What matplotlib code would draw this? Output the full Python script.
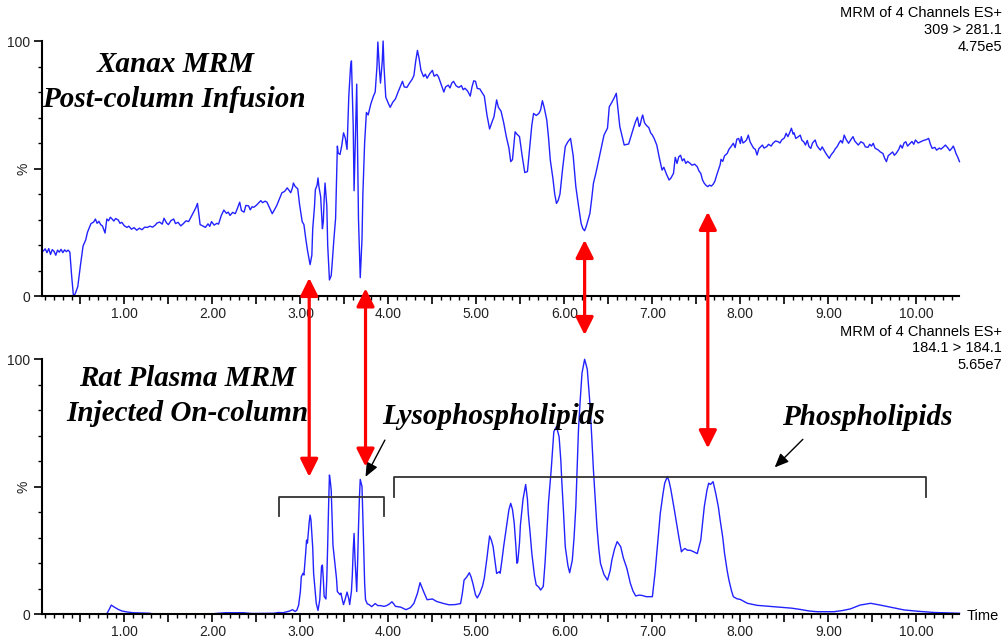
import numpy as np
import matplotlib
matplotlib.use('Agg')
import matplotlib.pyplot as plt
from matplotlib.patches import ConnectionPatch
from matplotlib.ticker import MultipleLocator, FuncFormatter

plt.rcParams['font.family'] = ['Liberation Sans', 'DejaVu Sans']

# Xanax post-column infusion trace (309 > 281.1), time in min, % intensity
top_time = [0.07, 0.10, 0.12, 0.14, 0.16, 0.18, 0.20, 0.22, 0.24, 0.26, 0.28, 0.30, 0.32, 0.34, 0.36, 0.38,
            0.40, 0.42, 0.44, 0.47, 0.50, 0.53, 0.56, 0.58, 0.62, 0.65, 0.67, 0.69, 0.71, 0.73, 0.75, 0.78,
            0.80, 0.82, 0.84, 0.86, 0.88, 0.90, 0.93, 0.95, 0.97, 1.00, 1.03, 1.05, 1.08, 1.11, 1.14, 1.17,
            1.20, 1.23, 1.26, 1.29, 1.32, 1.35, 1.37, 1.40, 1.43, 1.45, 1.48, 1.50, 1.53, 1.56, 1.58, 1.61,
            1.64, 1.67, 1.70, 1.73, 1.75, 1.78, 1.81, 1.83, 1.85, 1.86, 1.89, 1.92, 1.95, 1.97, 1.99, 2.02,
            2.05, 2.07, 2.10, 2.13, 2.16, 2.18, 2.20, 2.23, 2.26, 2.28, 2.31, 2.33, 2.36, 2.38, 2.41, 2.43,
            2.45, 2.47, 2.50, 2.52, 2.55, 2.57, 2.60, 2.62, 2.65, 2.68, 2.70, 2.73, 2.76, 2.79, 2.82, 2.85,
            2.87, 2.89, 2.91, 2.92, 2.94, 2.97, 2.99, 3.02, 3.04, 3.06, 3.08, 3.11, 3.13, 3.14, 3.16, 3.17,
            3.19, 3.20, 3.21, 3.23, 3.25, 3.26, 3.27, 3.28, 3.30, 3.31, 3.33, 3.35, 3.36, 3.38, 3.40, 3.42,
            3.43, 3.45, 3.47, 3.49, 3.51, 3.53, 3.55, 3.57, 3.58, 3.60, 3.61, 3.63, 3.64, 3.66, 3.68, 3.70,
            3.71, 3.73, 3.75, 3.77, 3.80, 3.83, 3.85, 3.87, 3.88, 3.90, 3.91, 3.93, 3.94, 3.95, 3.97, 4.00,
            4.02, 4.05, 4.08, 4.11, 4.14, 4.16, 4.18, 4.21, 4.24, 4.27, 4.29, 4.31, 4.33, 4.35, 4.37, 4.40,
            4.42, 4.44, 4.47, 4.50, 4.52, 4.55, 4.57, 4.60, 4.63, 4.65, 4.68, 4.70, 4.72, 4.74, 4.77, 4.80,
            4.83, 4.85, 4.87, 4.90, 4.93, 4.95, 4.97, 4.99, 5.01, 5.04, 5.06, 5.09, 5.12, 5.15, 5.18, 5.20,
            5.23, 5.25, 5.28, 5.31, 5.34, 5.37, 5.39, 5.41, 5.44, 5.46, 5.49, 5.52, 5.55, 5.58, 5.61, 5.63,
            5.65, 5.68, 5.71, 5.73, 5.75, 5.77, 5.80, 5.82, 5.84, 5.87, 5.89, 5.91, 5.93, 5.95, 5.98, 6.01,
            6.04, 6.07, 6.10, 6.13, 6.16, 6.19, 6.21, 6.23, 6.25, 6.27, 6.29, 6.31, 6.33, 6.36, 6.39, 6.42,
            6.45, 6.47, 6.49, 6.51, 6.54, 6.57, 6.59, 6.61, 6.63, 6.66, 6.68, 6.70, 6.73, 6.76, 6.79, 6.81,
            6.83, 6.85, 6.86, 6.88, 6.89, 6.91, 6.93, 6.96, 6.98, 7.00, 7.02, 7.05, 7.08, 7.11, 7.13, 7.16,
            7.19, 7.21, 7.24, 7.26, 7.28, 7.30, 7.32, 7.34, 7.36, 7.38, 7.40, 7.43, 7.45, 7.48, 7.51, 7.53,
            7.55, 7.57, 7.59, 7.61, 7.63, 7.65, 7.67, 7.69, 7.71, 7.73, 7.75, 7.77, 7.78, 7.80, 7.82, 7.85,
            7.87, 7.89, 7.92, 7.94, 7.96, 7.98, 8.00, 8.01, 8.03, 8.05, 8.07, 8.09, 8.11, 8.13, 8.15, 8.17,
            8.19, 8.21, 8.23, 8.25, 8.27, 8.30, 8.32, 8.35, 8.37, 8.40, 8.43, 8.45, 8.47, 8.50, 8.52, 8.54,
            8.56, 8.58, 8.60, 8.61, 8.63, 8.66, 8.68, 8.70, 8.72, 8.74, 8.76, 8.78, 8.80, 8.82, 8.85, 8.87,
            8.89, 8.91, 8.93, 8.96, 8.98, 9.01, 9.03, 9.06, 9.08, 9.10, 9.12, 9.14, 9.16, 9.18, 9.20, 9.23,
            9.25, 9.28, 9.30, 9.32, 9.34, 9.37, 9.40, 9.42, 9.45, 9.47, 9.49, 9.51, 9.53, 9.55, 9.57, 9.59,
            9.62, 9.64, 9.66, 9.68, 9.71, 9.73, 9.75, 9.77, 9.80, 9.82, 9.84, 9.86, 9.88, 9.90, 9.93, 9.95,
            9.97, 9.99, 10.02, 10.05, 10.08, 10.11, 10.14, 10.16, 10.18, 10.21, 10.23, 10.26, 10.28, 10.31,
            10.33, 10.36, 10.38, 10.40, 10.42, 10.44, 10.45, 10.47, 10.49]
top_pct = [17.4, 18.5, 17.0, 18.6, 16.3, 18.2, 17.5, 16.0, 18.0, 17.2, 18.3, 17.0, 18.1, 17.4, 18.0, 17.2,
           8.0, 0.2, 0.8, 3.7, 12.0, 19.6, 22.0, 25.0, 28.4, 29.0, 30.2, 28.5, 29.3, 28.0, 27.5, 24.7,
           30.2, 29.5, 30.9, 30.2, 29.4, 30.4, 29.8, 28.5, 28.9, 27.5, 26.9, 27.4, 26.2, 26.8, 25.8, 26.6,
           26.0, 27.0, 26.9, 27.4, 27.0, 27.8, 28.6, 29.0, 28.2, 30.5, 28.6, 28.0, 29.6, 30.2, 28.4, 28.9,
           27.5, 28.4, 29.5, 29.2, 30.5, 32.5, 34.5, 36.3, 31.0, 28.0, 27.5, 26.9, 28.3, 27.3, 29.2, 27.8,
           28.5, 28.2, 31.5, 33.7, 32.4, 32.9, 31.6, 32.8, 32.3, 34.0, 36.8, 33.5, 32.9, 35.5, 35.4, 33.8,
           35.0, 34.8, 35.6, 36.3, 37.4, 36.6, 37.2, 36.8, 34.5, 32.3, 33.5, 35.4, 38.0, 40.5, 41.0, 42.4,
           41.5, 40.5, 42.5, 44.3, 43.0, 42.0, 36.0, 29.2, 28.0, 22.7, 18.0, 12.3, 16.0, 26.4, 35.0, 41.7,
           43.5, 46.3, 43.0, 39.0, 26.4, 29.0, 38.0, 44.3, 35.4, 20.0, 6.3, 8.0, 12.3, 22.0, 30.5, 58.8,
           56.0, 55.5, 59.0, 64.0, 62.0, 57.5, 78.4, 90.0, 92.2, 66.8, 41.3, 70.0, 83.1, 30.2, 7.2, 22.3,
           40.0, 60.2, 72.0, 71.0, 75.3, 78.4, 80.0, 90.0, 99.6, 88.0, 83.5, 92.0, 100.0, 90.0, 78.0, 75.5,
           74.0, 76.0, 77.3, 80.0, 82.5, 84.2, 82.0, 81.8, 83.5, 85.0, 86.5, 92.0, 96.3, 93.0, 88.5, 86.0,
           87.0, 85.4, 87.2, 88.5, 86.2, 86.9, 85.9, 83.0, 80.0, 82.0, 82.7, 81.6, 83.5, 84.2, 82.4, 81.8,
           82.5, 80.9, 81.5, 80.4, 78.4, 82.0, 84.4, 84.2, 81.4, 81.2, 80.0, 78.4, 71.0, 65.5, 68.5, 70.3,
           76.9, 74.0, 72.5, 68.0, 62.5, 58.0, 52.7, 53.5, 64.4, 63.5, 62.5, 55.0, 48.4, 48.8, 60.0, 67.0,
           71.6, 70.8, 71.6, 73.0, 76.6, 74.0, 69.0, 62.0, 53.3, 46.0, 40.0, 36.3, 37.5, 40.0, 50.0, 58.6,
           60.5, 61.8, 55.0, 42.9, 35.5, 28.5, 26.4, 25.6, 27.5, 30.0, 32.4, 38.0, 44.2, 48.5, 53.3, 58.0,
           63.1, 64.5, 65.8, 74.2, 76.0, 78.0, 79.5, 73.0, 66.4, 62.0, 59.2, 59.4, 59.6, 63.0, 66.4, 68.5,
           70.1, 66.5, 67.0, 70.0, 71.0, 68.0, 67.0, 66.0, 64.0, 63.1, 61.8, 59.2, 54.0, 49.4, 50.5, 47.8,
           45.5, 46.2, 48.1, 54.4, 52.0, 54.6, 55.2, 53.0, 53.8, 52.0, 52.8, 52.0, 51.3, 51.7, 50.7, 49.0,
           48.1, 45.5, 44.2, 43.4, 42.9, 43.5, 43.1, 43.8, 45.0, 47.3, 49.4, 51.5, 53.6, 52.8, 55.0, 55.9,
           57.5, 58.4, 59.9, 58.2, 61.5, 61.8, 59.8, 62.5, 60.0, 60.5, 61.2, 63.1, 60.5, 59.2, 58.0, 57.5,
           55.3, 57.8, 58.5, 59.2, 58.0, 58.6, 59.5, 58.8, 59.9, 60.8, 60.5, 60.0, 61.2, 62.0, 63.8, 62.5,
           64.0, 65.8, 63.5, 64.0, 61.8, 62.5, 63.1, 61.0, 60.5, 59.2, 61.0, 58.6, 57.9, 60.0, 61.2, 59.0,
           58.0, 57.2, 58.5, 56.6, 55.5, 54.0, 55.3, 56.6, 57.8, 58.6, 59.9, 61.0, 60.0, 63.1, 61.5, 59.9,
           61.0, 62.5, 60.8, 60.0, 59.2, 60.5, 59.9, 58.5, 58.3, 59.5, 58.8, 59.9, 58.0, 57.6, 57.2, 56.5,
           55.9, 54.0, 52.7, 55.0, 55.9, 56.5, 55.2, 55.9, 57.5, 59.2, 58.0, 60.0, 60.5, 58.8, 59.9, 60.6,
           59.5, 61.2, 60.0, 60.5, 61.0, 61.3, 61.8, 59.5, 57.9, 58.3, 57.2, 58.0, 57.6, 58.5,
           59.2, 58.0, 57.0, 57.8, 58.8, 57.0, 55.9, 54.5, 52.7]

# rat plasma trace (184.1 > 184.1)
bot_time = [0.07, 0.40, 0.80, 0.83, 0.85, 0.89, 0.93, 0.97, 1.03, 1.10, 1.20, 1.28, 1.32, 1.60, 2.00, 2.15,
            2.35, 2.45, 2.70, 2.75, 2.80, 2.85, 2.88, 2.91, 2.94, 2.96, 2.98, 3.00, 3.01, 3.03, 3.04, 3.06,
            3.07, 3.08, 3.10, 3.11, 3.12, 3.14, 3.15, 3.17, 3.18, 3.20, 3.22, 3.23, 3.24, 3.25, 3.26, 3.27,
            3.29, 3.30, 3.31, 3.32, 3.33, 3.34, 3.35, 3.36, 3.37, 3.39, 3.41, 3.42, 3.44, 3.45, 3.46, 3.48,
            3.49, 3.51, 3.53, 3.55, 3.56, 3.58, 3.59, 3.60, 3.61, 3.62, 3.64, 3.65, 3.66, 3.67, 3.68, 3.70,
            3.71, 3.72, 3.73, 3.74, 3.76, 3.78, 3.81, 3.83, 3.85, 3.88, 3.91, 3.95, 3.98, 4.01, 4.04, 4.06,
            4.08, 4.14, 4.20, 4.25, 4.29, 4.33, 4.36, 4.38, 4.40, 4.44, 4.50, 4.55, 4.63, 4.69, 4.76, 4.82,
            4.84, 4.86, 4.89, 4.92, 4.94, 4.96, 4.99, 5.01, 5.04, 5.07, 5.09, 5.12, 5.15, 5.17, 5.19, 5.21,
            5.23, 5.26, 5.27, 5.29, 5.31, 5.35, 5.37, 5.39, 5.41, 5.43, 5.45, 5.46, 5.47, 5.49, 5.50, 5.53,
            5.56, 5.58, 5.59, 5.61, 5.63, 5.66, 5.68, 5.71, 5.73, 5.76, 5.78, 5.80, 5.82, 5.85, 5.88, 5.91,
            5.94, 5.96, 5.97, 5.99, 6.01, 6.04, 6.06, 6.09, 6.11, 6.13, 6.16, 6.18, 6.20, 6.23, 6.26, 6.29,
            6.31, 6.33, 6.35, 6.37, 6.39, 6.41, 6.45, 6.49, 6.52, 6.54, 6.57, 6.60, 6.64, 6.67, 6.71, 6.75,
            6.78, 6.81, 6.85, 6.88, 6.93, 7.00, 7.03, 7.06, 7.09, 7.12, 7.14, 7.17, 7.19, 7.21, 7.25, 7.30,
            7.33, 7.35, 7.37, 7.40, 7.43, 7.47, 7.51, 7.55, 7.59, 7.62, 7.64, 7.66, 7.69, 7.72, 7.75, 7.77,
            7.80, 7.82, 7.85, 7.87, 7.90, 7.92, 7.96, 8.00, 8.08, 8.19, 8.30, 8.40, 8.49, 8.58, 8.68, 8.78,
            8.87, 9.06, 9.15, 9.25, 9.36, 9.48, 9.59, 9.72, 9.86, 10.01, 10.20, 10.49]
bot_pct = [0.0, 0.0, 0.1, 2.0, 3.5, 2.6, 1.8, 1.2, 0.8, 0.5, 0.4, 0.3, 0.1, 0.1, 0.1, 0.5,
           0.5, 0.2, 0.3, 0.6, 0.5, 0.9, 1.2, 1.7, 1.0, 1.5, 3.5, 9.0, 14.6, 16.0, 15.3, 24.0,
           29.0, 27.8, 36.0, 38.8, 36.9, 26.0, 16.0, 8.0, 4.2, 1.4, 5.6, 12.0, 18.6, 19.2, 14.0, 6.9,
           5.9, 14.0, 27.0, 42.0, 54.5, 52.0, 48.6, 38.0, 27.0, 20.5, 14.0, 8.8, 8.0, 7.6, 8.2, 5.0,
           3.7, 6.0, 8.6, 6.0, 3.7, 9.0, 15.3, 25.0, 31.6, 22.0, 8.8, 20.0, 33.9, 45.0, 52.8, 50.0,
           38.0, 25.2, 12.0, 5.6, 4.0, 3.7, 2.9, 3.5, 4.1, 3.3, 3.3, 3.0, 3.3, 3.9, 4.8, 4.0,
           3.0, 2.7, 1.7, 2.5, 4.2, 8.1, 12.3, 10.5, 8.8, 5.6, 5.9, 4.9, 4.1, 3.6, 3.7, 4.1,
           8.0, 13.3, 14.5, 16.2, 14.5, 12.0, 7.5, 6.3, 8.2, 11.0, 14.1, 22.0, 30.6, 29.0, 26.4, 21.0,
           15.9, 16.6, 16.0, 21.0, 26.5, 36.0, 41.0, 43.4, 41.0, 35.6, 26.0, 19.9, 20.4, 28.0, 34.8, 45.0,
           50.8, 45.0, 39.3, 32.0, 23.8, 15.0, 11.4, 10.5, 9.4, 10.8, 20.0, 31.6, 44.0, 56.5, 71.5, 73.5,
           69.5, 60.0, 52.5, 40.0, 26.4, 19.0, 16.2, 21.1, 30.0, 42.1, 72.2, 84.0, 94.4, 99.9, 96.0, 82.6,
           70.0, 56.5, 45.0, 34.2, 26.0, 19.9, 15.5, 13.3, 17.0, 21.2, 25.5, 28.4, 26.4, 22.0, 17.9, 12.0,
           9.0, 7.1, 7.4, 7.3, 6.8, 6.8, 16.0, 28.0, 39.5, 47.0, 51.3, 53.9, 52.0, 48.8, 40.8, 30.3,
           24.4, 25.2, 25.7, 25.0, 25.0, 24.4, 23.7, 29.0, 42.1, 48.5, 51.3, 50.8, 51.9, 47.3, 42.0, 36.9,
           30.0, 23.8, 17.0, 13.3, 9.0, 6.8, 6.0, 5.7, 4.2, 3.4, 3.1, 2.8, 2.6, 2.3, 1.8, 1.2,
           0.9, 0.9, 1.3, 2.0, 3.5, 4.2, 3.5, 2.6, 1.6, 1.1, 0.6, 0.3]

# red double arrows: time, tip in top trace (%), tip in bottom trace (%)
arrow_time = [3.10, 3.74, 6.23, 7.63]
arrow_top = [7.1, 3.0, 22.0, 33.0]
arrow_bot = [53.8, 57.8, 109.4, 65.0]

top_header = ['MRM of 4 Channels ES+', '309 > 281.1', '4.75e5']
bot_header = ['MRM of 4 Channels ES+', '184.1 > 184.1', '5.65e7']

fig = plt.figure(figsize=(10.05, 6.41), dpi=100)
ax1 = fig.add_axes([0.0415, 0.5382, 0.9132, 0.3978])
ax2 = fig.add_axes([0.0415, 0.0421, 0.9132, 0.3978])


def fmt_time(v, pos):
    if abs(v - round(v)) < 1e-6:
        return '%.2f' % v
    return ''


for ax in [ax1, ax2]:
    ax.set_xlim(0.06, 10.49)
    ax.set_ylim(0, 100)
    ax.spines['top'].set_visible(False)
    ax.spines['right'].set_visible(False)
    ax.spines['left'].set_linewidth(1.5)
    ax.spines['bottom'].set_linewidth(1.5)
    ax.set_xticks(np.arange(0.5, 10.5, 0.5))
    ax.xaxis.set_major_formatter(FuncFormatter(fmt_time))
    ax.xaxis.set_minor_locator(MultipleLocator(0.1))
    ax.set_yticks([0, 50, 100])
    ax.set_yticklabels(['0', '%', '100'])
    ax.get_yticklabels()[1].set_rotation(90)
    ax.get_yticklabels()[1].set_va('center')
    ax.yaxis.set_minor_locator(MultipleLocator(10))
    ax.tick_params(which='major', length=6, width=1.2, labelsize=10, labelcolor='#222222', pad=2)
    ax.tick_params(which='minor', length=3, width=1)

ax1.plot(top_time, top_pct, color='#2222ff', lw=1.0, clip_on=False)
ax2.plot(bot_time, bot_pct, color='#2222ff', lw=1.0, clip_on=False)

lab = dict(family='Liberation Serif', weight='bold', style='italic', size=21, ha='center', va='center')
ax1.text(1.58, 90.6, 'Xanax MRM', **lab)
ax1.text(1.56, 76.9, 'Post-column Infusion', **lab)
ax2.text(1.72, 92.5, 'Rat Plasma MRM', **lab)
ax2.text(1.72, 78.8, 'Injected On-column', **lab)
ax2.text(5.20, 77.3, 'Lysophospholipids', **lab)
ax2.text(9.44, 76.9, 'Phospholipids', **lab)

# brackets
ax2.plot([2.76, 2.76, 3.95, 3.95], [38.4, 46, 46, 38.4], color='#333333', lw=1.3, clip_on=False)
ax2.plot([4.06, 4.06, 10.11, 10.11], [46, 53.6, 53.6, 46], color='#333333', lw=1.3, clip_on=False)

black = dict(arrowstyle='-|>,head_length=0.7,head_width=0.3', color='black', lw=1, mutation_scale=12,
             shrinkA=0, shrinkB=0)
ax2.annotate('', xy=(3.74, 53.8), xytext=(3.96, 68.2), arrowprops=black)
ax2.annotate('', xy=(8.39, 57.5), xytext=(8.71, 68.5), arrowprops=black)

for t, a, b in zip(arrow_time, arrow_top, arrow_bot):
    con = ConnectionPatch(xyA=(t, b), coordsA=ax2.transData, xyB=(t, a), coordsB=ax1.transData,
                          arrowstyle='<|-|>,head_length=0.9,head_width=0.45', mutation_scale=12,
                          color='red', lw=2.3)
    fig.add_artist(con)

for i, s in enumerate(top_header):
    fig.text(0.997, 0.979 - i * 0.026, s, ha='right', va='center', size=10.5)
for i, s in enumerate(bot_header):
    fig.text(0.997, 0.4825 - i * 0.026, s, ha='right', va='center', size=10.5)
fig.text(0.962, 0.039, 'Time', ha='left', va='center', size=10.5)

fig.savefig('out.png', dpi=100)
